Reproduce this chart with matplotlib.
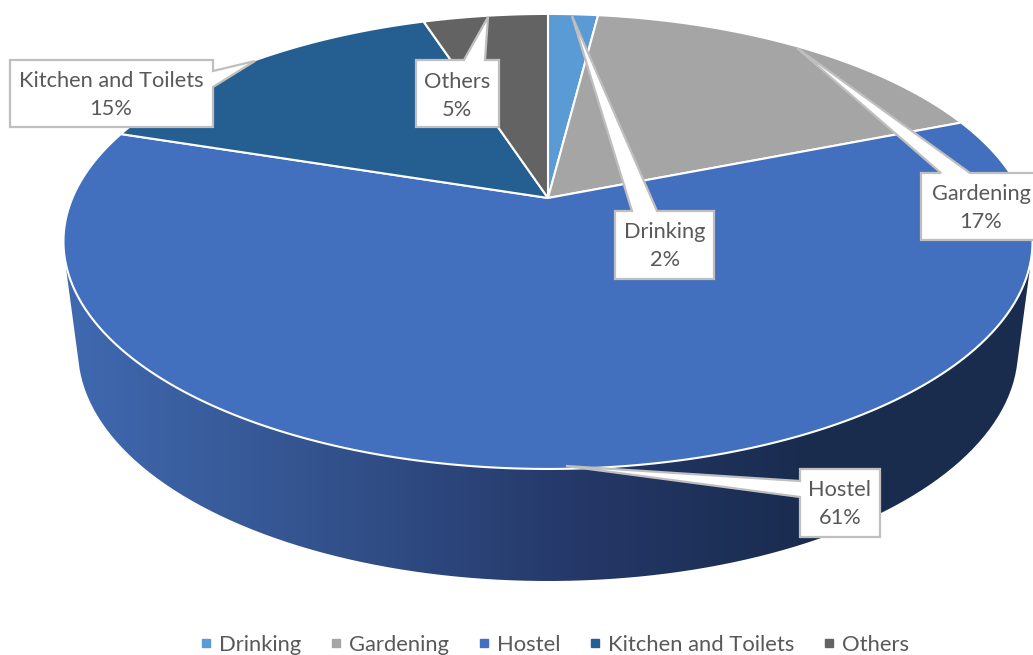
import numpy as np
import matplotlib
matplotlib.use('Agg')
import matplotlib.pyplot as plt
from matplotlib.colors import LinearSegmentedColormap
from matplotlib.lines import Line2D
from matplotlib.patches import Polygon, PathPatch
from matplotlib.path import Path

plt.rcParams['font.family'] = ['Lato', 'DejaVu Sans']

# chart values
categories = ['Drinking', 'Gardening', 'Hostel', 'Kitchen and Toilets', 'Others']
shares = [2, 17, 61, 15, 5]
colors = ['#5B9BD5', '#A5A5A5', '#4270BE', '#255E91', '#636363']
side_stops = [(0.0, '#4069B0'), (0.25, '#34548F'), (0.52, '#25396A'), (0.76, '#1A2C4F'), (1.0, '#1A2C4E')]

# disc projection, pixels of the picture
apex_x, apex_y = 548, 198
tilt = 0.191
scale_x, scale_y = 475.6, 219.2
depth_cx, depth_cy, depth_a, depth_b = 548, 350, 470, 231
text_color = '#595959'
box_edge = '#BFBFBF'


def rim(frac):
    # frac runs clockwise from the top of the pie
    a = 2 * np.pi * np.asarray(frac)
    x, y = np.sin(a), np.cos(a)
    d = 1 + tilt * y
    return apex_x + scale_x * x / d, apex_y - scale_y * y / d


fig = plt.figure(figsize=(10.33, 6.55), dpi=100)
ax = fig.add_axes([0, 0, 1, 1])

# side of the pie with its gradient, the top of this outline stays under the disc
t = np.linspace(np.pi - np.arcsin(18 / depth_b), np.arcsin(15 / depth_b), 200)
low_x = depth_cx + depth_a * np.cos(t)
low_y = depth_cy + depth_b * np.sin(t)
side = [(66, 268)] + list(zip(low_x, low_y)) + [(1030, 268), (900, 250), (200, 250), (66, 268)]
cmap = LinearSegmentedColormap.from_list('side', side_stops)
img = ax.imshow(np.linspace(0, 1, 256)[None, :], extent=[66, 1030, 600, 200], cmap=cmap,
                aspect='auto', zorder=1)
clip = PathPatch(Path(side), transform=ax.transData, fc='none', ec='none')
ax.add_patch(clip)
img.set_clip_path(clip)

# top of the pie
edges = np.cumsum([0] + shares) / sum(shares)
for i, col in enumerate(colors):
    x, y = rim(np.linspace(edges[i], edges[i + 1], 240))
    pts = [(apex_x, apex_y)] + list(zip(x, y))
    ax.add_patch(Polygon(pts, closed=True, fc=col, ec='white', lw=1.5, zorder=2, joinstyle='round'))

# callouts: box left, top, right, bottom, tip, pointer base, text centre
callouts = {
    'Kitchen and Toilets': ((10, 60, 213, 127), (255, 61), [(213, 71), (213, 87)], (111, 95)),
    'Others': ((416, 60, 499, 127), (488, 17), [(464, 60), (485, 60)], (457, 96)),
    'Drinking': ((615, 211, 714, 279), (572, 16), [(632, 211), (657, 211)], (665, 246)),
    'Gardening': ((921, 173, 1045, 240), (797, 48), [(941, 173), (970, 173)], (981, 208)),
    'Hostel': ((800, 469, 880, 537), (566, 466), [(800, 481), (800, 497)], (840, 504)),
}
for name, share in zip(categories, shares):
    (l, t_, r, b), tip, base, centre = callouts[name]
    if base[0][1] == t_:  # pointer leaves the top edge
        outline = [(l, t_), base[0], tip, base[1], (r, t_), (r, b), (l, b)]
    elif base[0][0] == r:  # right edge
        outline = [(l, t_), (r, t_), base[0], tip, base[1], (r, b), (l, b)]
    else:  # left edge
        outline = [(l, t_), (r, t_), (r, b), (l, b), base[1], tip, base[0]]
    ax.add_patch(Polygon(outline, closed=True, fc='white', ec=box_edge, lw=1.6, zorder=3, joinstyle='miter'))
    ax.text(centre[0], centre[1], f'{name}\n{share}%', ha='center', va='center', fontsize=15.7,
            color=text_color, linespacing=1.5, zorder=4)

ax.set_xlim(0, 1033)
ax.set_ylim(655, 0)
ax.axis('off')

handles = [Line2D([], [], ls='none', marker='s', ms=6, mfc=c, mec=c) for c in colors]
fig.legend(handles, categories, loc='center', bbox_to_anchor=(0.5368, 0.016), ncol=5, frameon=False,
           fontsize=15.8, labelcolor=text_color, handlelength=0.55, handletextpad=0.3, columnspacing=1.32,
           borderpad=0, borderaxespad=0)

fig.savefig('out.png', dpi=100)
